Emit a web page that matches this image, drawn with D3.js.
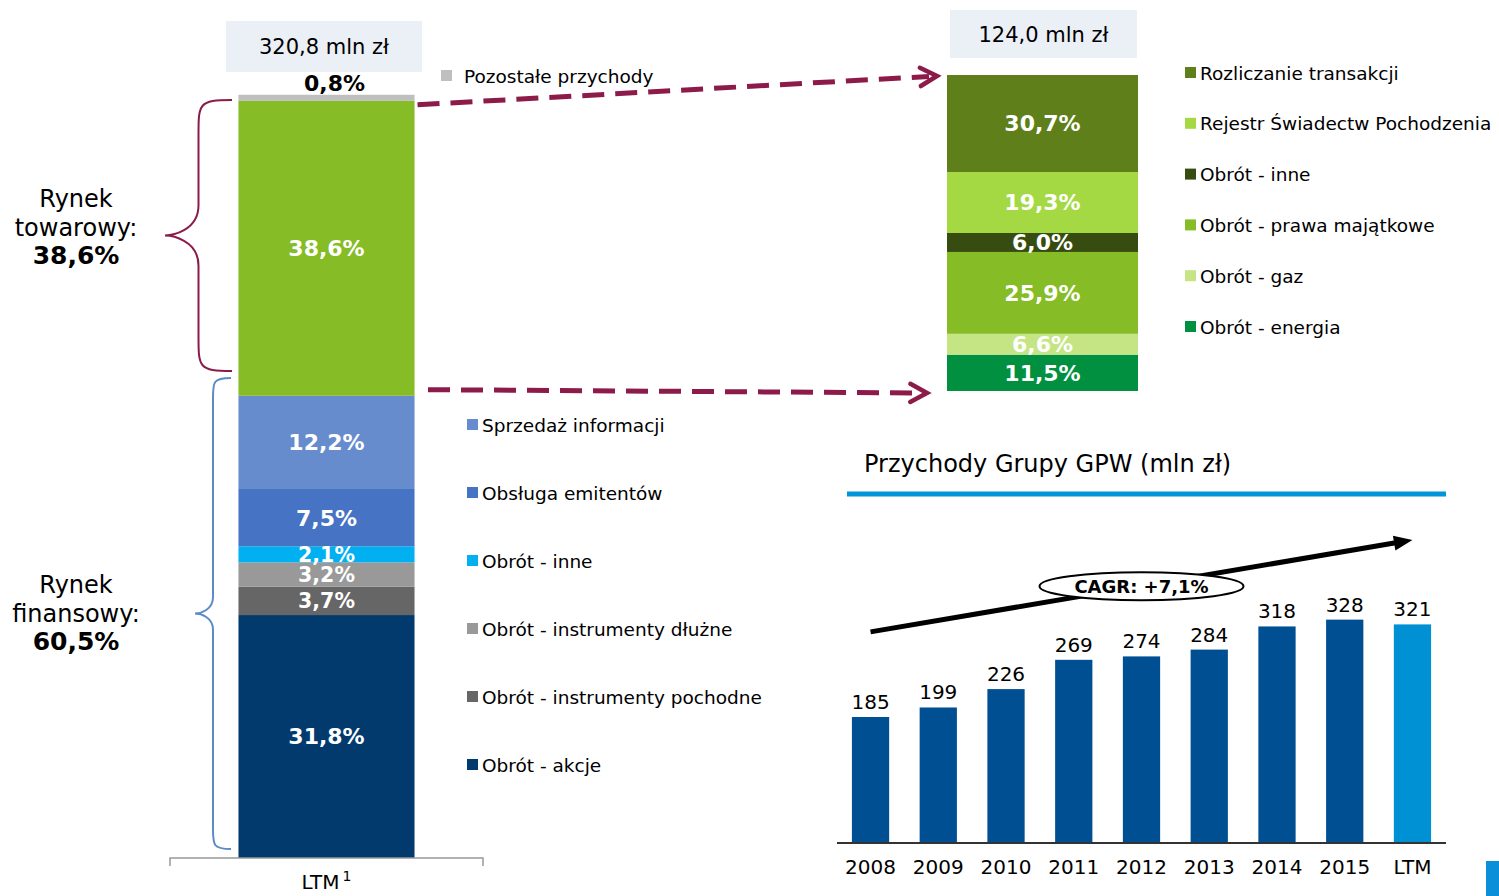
<!DOCTYPE html>
<html lang="pl">
<head>
<meta charset="UTF-8">
<title>Przychody GPW</title>
<script src="https://cdn.jsdelivr.net/npm/d3@7"></script>
<style>
  body { margin: 0; background: #fff; }
  text { font-family: "DejaVu Sans", Verdana, sans-serif; }
</style>
</head>
<body>
<div class="chart"></div>
<script>
  // lewy słupek (od dołu do góry)
  const leftNames = ["Obrót - akcje", "Obrót - instrumenty pochodne", "Obrót - instrumenty dłużne",
    "Obrót - inne", "Obsługa emitentów", "Sprzedaż informacji", "Rynek towarowy", "Pozostałe przychody"];
  const leftValues = [31.8, 3.7, 3.2, 2.1, 7.5, 12.2, 38.6, 0.8];
  const leftColors = ["#023a6e", "#666666", "#999999", "#00b0f0", "#4673c4", "#678cce", "#86bc25", "#bfbfbf"];
  const leftLegend = ["Sprzedaż informacji", "Obsługa emitentów", "Obrót - inne",
    "Obrót - instrumenty dłużne", "Obrót - instrumenty pochodne", "Obrót - akcje"];

  // prawy słupek - rynek towarowy (od dołu do góry)
  const rightNames = ["Obrót - energia", "Obrót - gaz", "Obrót - prawa majątkowe", "Obrót - inne",
    "Rejestr Świadectw Pochodzenia", "Rozliczanie transakcji"];
  const rightValues = [11.5, 6.6, 25.9, 6.0, 19.3, 30.7];
  const rightColors = ["#009040", "#c5e585", "#86bc25", "#374c11", "#a5d943", "#5e7f19"];

  // przychody grupy
  const years = ["2008", "2009", "2010", "2011", "2012", "2013", "2014", "2015", "LTM"];
  const revenue = [185, 199, 226, 269, 274, 284, 318, 328, 321];

  const totalLeft = "320,8 mln zł", totalRight = "124,0 mln zł";
  const fmt = v => v.toFixed(1).replace(".", ",") + "%";

  const svg = d3.select('.chart').append('svg').attr('width', 1499).attr('height', 896);
  const maroon = "#8c1b4a";

  // ---------- lewy słupek ----------
  const yL = d3.scaleLinear().domain([0, 100]).range([858, 94]);
  const xL = d3.scaleBand().domain(["LTM"]).range([170, 483]).padding(0.28);
  let cum = 0;
  const leftStack = leftValues.map((v, i) => { const d = {name: leftNames[i], v, y0: cum, y1: cum + v, c: leftColors[i]}; cum += v; return d; });

  svg.append('g').selectAll('rect').data(leftStack).join('rect')
    .attr('x', xL("LTM")).attr('width', xL.bandwidth())
    .attr('y', d => yL(d.y1)).attr('height', d => yL(d.y0) - yL(d.y1))
    .attr('fill', d => d.c);
  svg.append('g').selectAll('text').data(leftStack.filter(d => d.v > 1)).join('text')
    .attr('x', xL("LTM") + xL.bandwidth() / 2).attr('y', d => yL((d.y0 + d.y1) / 2))
    .attr('dy', '0.36em').attr('text-anchor', 'middle')
    .attr('fill', '#fff').attr('font-weight', 'bold').attr('font-size', d => d.v < 5 ? 20.5 : 22)
    .text(d => fmt(d.v));
  const topSeg = leftStack[leftStack.length - 1];
  svg.append('text').attr('x', xL("LTM") + xL.bandwidth() / 2 + 8).attr('y', yL(topSeg.y1) - 4)
    .attr('text-anchor', 'middle').attr('font-weight', 'bold').attr('font-size', 22).text(fmt(topSeg.v));

  // oś pod lewym słupkiem
  svg.append('path').attr('d', `M${xL.range()[0]},866V${yL(0)}H${xL.range()[1]}V866`)
    .attr('fill', 'none').attr('stroke', '#999').attr('stroke-width', 1.5);
  const ltm = svg.append('text').attr('x', xL("LTM") + xL.bandwidth() / 2).attr('y', 889)
    .attr('text-anchor', 'middle').attr('font-size', 20);
  ltm.append('tspan').text('LTM');
  ltm.append('tspan').attr('font-size', 14).attr('dy', -8).attr('dx', 3).text('1');

  // ramka z sumą
  function totalBox(x, y, w, h, t) {
    svg.append('rect').attr('x', x).attr('y', y).attr('width', w).attr('height', h).attr('fill', '#ebeff6');
    svg.append('text').attr('x', x + w / 2).attr('y', y + h / 2).attr('dy', '0.36em')
      .attr('text-anchor', 'middle').attr('font-size', 21).text(t);
  }
  totalBox(226, 21, 196, 51, totalLeft);

  // legenda lewa
  const legL = svg.append('g').selectAll('g').data(leftLegend).join('g')
    .attr('transform', (d, i) => `translate(467,${425 + i * 68})`);
  legL.append('rect').attr('y', -6).attr('width', 11).attr('height', 11)
    .attr('fill', d => leftColors[leftNames.indexOf(d)]);
  legL.append('text').attr('x', 15).attr('dy', '0.36em').attr('font-size', 18.5).text(d => d);

  const pz = svg.append('g').attr('transform', 'translate(441,76)');
  pz.append('rect').attr('y', -6).attr('width', 11).attr('height', 11).attr('fill', topSeg.c);
  pz.append('text').attr('x', 23).attr('dy', '0.36em').attr('font-size', 18.5).text(topSeg.name);

  // nawiasy i opisy
  function brace(x, yTop, yBot, depth, color) {
    const mid = (yTop + yBot) / 2, xv = x - depth * 0.5, xt = x - depth, r = depth * 0.45;
    const p = `M${x},${yTop} C${xv},${yTop} ${xv},${yTop + 4} ${xv},${yTop + r + 4} V${mid - r}` +
      ` C${xv},${mid - 4} ${xt + 6},${mid} ${xt},${mid} C${xt + 6},${mid} ${xv},${mid + 4} ${xv},${mid + r}` +
      ` V${yBot - r - 4} C${xv},${yBot - 4} ${xv},${yBot} ${x},${yBot}`;
    svg.append('path').attr('d', p).attr('fill', 'none').attr('stroke', color).attr('stroke-width', 2);
  }
  brace(232, 100, 371, 67, maroon);
  brace(231, 378, 849, 36, "#5b8cc8");

  function sideLabel(y, l1, l2, l3) {
    const t = svg.append('text').attr('x', 76).attr('y', y).attr('text-anchor', 'middle').attr('font-size', 24);
    t.append('tspan').attr('x', 76).text(l1);
    t.append('tspan').attr('x', 76).attr('dy', 29).text(l2);
    t.append('tspan').attr('x', 76).attr('dy', 28).attr('font-weight', 'bold').attr('font-size', 25).text(l3);
  }
  sideLabel(207, "Rynek", "towarowy:", "38,6%");
  sideLabel(593, "Rynek", "finansowy:", "60,5%");

  // ---------- prawy słupek ----------
  const yR = d3.scaleLinear().domain([0, 100]).range([391, 75]);
  const xR = d3.scaleBand().domain(["towar"]).range([947, 1138]);
  cum = 0;
  const rightStack = rightValues.map((v, i) => { const d = {name: rightNames[i], v, y0: cum, y1: cum + v, c: rightColors[i]}; cum += v; return d; });
  svg.append('g').selectAll('rect').data(rightStack).join('rect')
    .attr('x', xR("towar")).attr('width', xR.bandwidth())
    .attr('y', d => yR(d.y1)).attr('height', d => yR(d.y0) - yR(d.y1))
    .attr('fill', d => d.c);
  svg.append('g').selectAll('text').data(rightStack).join('text')
    .attr('x', xR("towar") + xR.bandwidth() / 2).attr('y', d => yR((d.y0 + d.y1) / 2))
    .attr('dy', '0.36em').attr('text-anchor', 'middle')
    .attr('fill', '#fff').attr('font-weight', 'bold').attr('font-size', 22)
    .text(d => fmt(d.v));
  totalBox(950, 10, 187, 48, totalRight);

  const legR = svg.append('g').selectAll('g').data(rightStack.slice().reverse()).join('g')
    .attr('transform', (d, i) => `translate(1185,${73 + i * 50.8})`);
  legR.append('rect').attr('y', -6).attr('width', 11).attr('height', 11).attr('fill', d => d.c);
  legR.append('text').attr('x', 15).attr('dy', '0.36em').attr('font-size', 18.5).text(d => d.name);

  // przerywane strzałki
  function dashArrow(x1, y1, x2, y2) {
    const a = Math.atan2(y2 - y1, x2 - x1), L = 19, w = 0.5;
    svg.append('line').attr('x1', x1).attr('y1', y1).attr('x2', x2 - 8 * Math.cos(a)).attr('y2', y2 - 8 * Math.sin(a))
      .attr('stroke', maroon).attr('stroke-width', 5).attr('stroke-dasharray', '22 11');
    const p1 = [x2 - L * Math.cos(a - w), y2 - L * Math.sin(a - w)], p2 = [x2 - L * Math.cos(a + w), y2 - L * Math.sin(a + w)];
    svg.append('path').attr('d', `M${p1}L${x2},${y2}L${p2}`).attr('fill', 'none')
      .attr('stroke', maroon).attr('stroke-width', 4.5).attr('stroke-linecap', 'round');
  }
  dashArrow(xL("LTM") + xL.bandwidth() + 3, yL(99.9) + 10, xR.range()[0] - 10, yR(100) + 1);
  dashArrow(428, yL(61.3), xR.range()[0] - 20, yR(0) + 2);

  // ---------- przychody grupy ----------
  svg.append('text').attr('x', 864).attr('y', 472).attr('font-size', 24).text('Przychody Grupy GPW (mln zł)');
  svg.append('line').attr('x1', 847).attr('x2', 1446).attr('y1', 494).attr('y2', 494)
    .attr('stroke', '#0095d9').attr('stroke-width', 5);

  const xB = d3.scaleBand().domain(years).range([837, 1446]).paddingInner(0.45).paddingOuter(0.22);
  const yB = d3.scaleLinear().domain([0, 350]).range([843, 843 - 350 * 0.681]);
  svg.append('g').selectAll('rect').data(years).join('rect')
    .attr('x', d => xB(d)).attr('width', xB.bandwidth())
    .attr('y', (d, i) => yB(revenue[i])).attr('height', (d, i) => yB(0) - yB(revenue[i]))
    .attr('fill', d => d === "LTM" ? "#0090d4" : "#004f93");
  svg.append('g').selectAll('text').data(years).join('text')
    .attr('x', d => xB(d) + xB.bandwidth() / 2).attr('y', (d, i) => yB(revenue[i]) - 8)
    .attr('text-anchor', 'middle').attr('font-size', 20).text((d, i) => revenue[i]);
  const axB = svg.append('g').attr('transform', `translate(0,${yB(0)})`)
    .call(d3.axisBottom(xB).tickSize(0).tickPadding(17));
  axB.select('.domain').attr('stroke', '#333').attr('stroke-width', 2).attr('d', 'M837,0H1446');
  axB.selectAll('text').attr('font-size', 20).attr('fill', '#000').style('font-family', '"DejaVu Sans", Verdana, sans-serif');

  // strzałka CAGR
  const a0 = [xB("2008") + xB.bandwidth() / 2, yB(310)], a1 = [xB("LTM") + xB.bandwidth() / 2, yB(445)];
  const ang = Math.atan2(a1[1] - a0[1], a1[0] - a0[0]);
  svg.append('line').attr('x1', a0[0]).attr('y1', a0[1])
    .attr('x2', a1[0] - 14 * Math.cos(ang)).attr('y2', a1[1] - 14 * Math.sin(ang))
    .attr('stroke', '#000').attr('stroke-width', 5);
  const h = 20, hw = 0.38;
  svg.append('path').attr('d', `M${a1}L${[a1[0] - h * Math.cos(ang - hw), a1[1] - h * Math.sin(ang - hw)]}` +
    `L${[a1[0] - h * Math.cos(ang + hw), a1[1] - h * Math.sin(ang + hw)]}Z`).attr('fill', '#000');
  const ec = [xB("2012") + xB.bandwidth() / 2, yB(377)];
  svg.append('ellipse').attr('cx', ec[0]).attr('cy', ec[1]).attr('rx', 102).attr('ry', 14)
    .attr('fill', '#fff').attr('stroke', '#000').attr('stroke-width', 2);
  svg.append('text').attr('x', ec[0]).attr('y', ec[1]).attr('dy', '0.36em').attr('text-anchor', 'middle')
    .attr('font-weight', 'bold').attr('font-size', 18).text('CAGR: +7,1%');

  // narożnik
  svg.append('rect').attr('x', 1486).attr('y', 861).attr('width', 13).attr('height', 35).attr('fill', '#0a8fd8');
</script>
</body>
</html>
